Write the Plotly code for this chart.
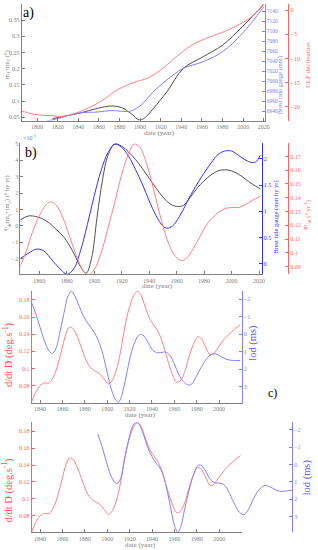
import plotly.graph_objects as go

W, H = 318, 550
FONT = "Liberation Serif, Times New Roman, serif"
GRAY = "#808080"
BLK = "#505050"
BLUE_L = "#8080ff"
BLUE = "#3030ff"
RED_L = "#ff8080"
RED = "#ff6060"

# ---------------- panel a ----------------
a_years_black = [1815, 1824, 1840, 1859, 1872, 1882, 1891, 1899, 1904, 1913, 1926, 1942, 1961, 1980, 1999, 2020]
a_black = [0.046, 0.052, 0.062, 0.078, 0.085, 0.080, 0.062, 0.042, 0.047, 0.078, 0.129, 0.201, 0.237, 0.273, 0.329, 0.398]
a_years_blue = [1808, 1824, 1840, 1859, 1872, 1885, 1891, 1901, 1913, 1926, 1942, 1961, 1980, 1999, 2020]
a_blue = [6920, 6928, 6937, 6939, 6942, 6940, 6941, 6953, 6980, 7003, 7026, 7039, 7059, 7095, 7148]
a_years_red = [1785, 1797, 1813, 1826, 1842, 1862, 1878, 1894, 1907, 1920, 1937, 1953, 1966, 1985, 2008, 2020]
a_red = [-20.9, -21.6, -21.9, -22.0, -21.0, -18.9, -16.5, -15.0, -14.1, -12.4, -9.3, -6.9, -5.7, -4.1, -1.4, 1.4]

# ---------------- panel b ----------------
b_years_black = [1846, 1852, 1858, 1865, 1872, 1878, 1884, 1890, 1894, 1898, 1902, 1906, 1910, 1915, 1920, 1925,
                 1930, 1935, 1940, 1945, 1950, 1955, 1960, 1965, 1970, 1975, 1980, 1985, 1990, 1995, 2000, 2005,
                 2010, 2015, 2021]
b_black = [0.35, 0.6, 0.55, 0.3, -0.2, -0.7, -1.5, -2.5, -2.9, -2.0, 0.5, 2.8, 4.3, 5.0, 4.85, 4.5,
           4.05, 3.5, 2.9, 2.3, 1.75, 1.35, 1.18, 1.25, 1.75, 2.3, 2.75, 3.1, 3.35, 3.42, 3.35, 3.15,
           2.85, 2.55, 2.25]
b_years_blue = [1846, 1852, 1858, 1863, 1870, 1876, 1880, 1885, 1890, 1895, 1900, 1905, 1910, 1915, 1920, 1925,
                1930, 1935, 1940, 1945, 1950, 1953, 1957, 1962, 1970, 1978, 1985, 1990, 1995, 2000, 2005, 2010,
                2015, 2018, 2021]
b_blue = [0.1, 0.2, 0.28, 0.25, 0.05, -0.12, -0.2, -0.1, 0.25, 0.75, 1.3, 1.78, 2.12, 2.28, 2.22, 2.05,
          1.8, 1.52, 1.2, 0.92, 0.72, 0.68, 0.72, 0.9, 1.3, 1.65, 1.92, 2.08, 2.15, 2.15, 2.07, 1.98,
          1.93, 1.95, 2.07]
b_years_red = [1846, 1850, 1855, 1860, 1865, 1868, 1872, 1877, 1882, 1887, 1892, 1896, 1900, 1905, 1910, 1915,
               1920, 1925, 1929, 1933, 1938, 1943, 1948, 1953, 1958, 1963, 1967, 1972, 1977, 1983, 1990, 1995,
               2000, 2005, 2010, 2015, 2021]
b_red = [0.090, 0.100, 0.115, 0.127, 0.135, 0.137, 0.135, 0.126, 0.112, 0.098, 0.087, 0.084, 0.088, 0.100, 0.118, 0.137,
         0.157, 0.172, 0.179, 0.177, 0.165, 0.147, 0.127, 0.110, 0.099, 0.0945, 0.096, 0.103, 0.112, 0.122, 0.129, 0.132,
         0.133, 0.133, 0.135, 0.138, 0.141]

# ---------------- panels c and d ----------------
cd_years_red = [1832.5, 1836, 1840, 1844, 1848, 1852, 1856, 1860, 1863, 1866, 1869, 1873, 1877, 1881, 1885, 1889,
                1893, 1897, 1901, 1904, 1908, 1912, 1916, 1920, 1924, 1927, 1930, 1934, 1938, 1942, 1946, 1950,
                1954, 1958, 1962, 1965, 1969, 1973, 1977, 1981, 1984, 1988, 1992, 1995, 1999, 2004, 2009, 2014, 2019]
cd_red = [0.061, 0.072, 0.080, 0.083, 0.083, 0.090, 0.105, 0.125, 0.140, 0.148, 0.147, 0.138, 0.124, 0.110, 0.101, 0.097,
          0.094, 0.088, 0.082, 0.085, 0.097, 0.120, 0.150, 0.172, 0.186, 0.190, 0.186, 0.172, 0.158, 0.150, 0.142, 0.128,
          0.110, 0.094, 0.084, 0.085, 0.095, 0.113, 0.128, 0.137, 0.135, 0.125, 0.116, 0.117, 0.124, 0.133, 0.140, 0.146, 0.151]
c_years_blue = [1832.5, 1836, 1840, 1844, 1848, 1851, 1854, 1858, 1862, 1865, 1868, 1871, 1875, 1879, 1883, 1887,
                1891, 1895, 1899, 1903, 1907, 1910, 1913, 1917, 1921, 1925, 1929, 1932, 1936, 1940, 1944, 1948,
                1952, 1956, 1960, 1964, 1968, 1972, 1975, 1979, 1984, 1989, 1993, 1997, 2001, 2006, 2012, 2019]
c_lod = [-1.8, -1.2, -0.4, 0.4, 0.95, 1.1, 0.85, -0.2, -1.4, -2.2, -2.45, -2.2, -1.6, -1.0, -0.6, -0.25,
         0.2, 0.9, 1.9, 3.0, 3.7, 3.9, 3.5, 2.4, 1.2, 0.4, 0.02, 0.05, 0.4, 0.85, 1.05, 1.05,
         1.02, 1.2, 1.7, 2.3, 2.7, 2.9, 2.88, 2.5, 1.9, 1.4, 1.15, 1.12, 1.25, 1.42, 1.5, 1.5]
d_years_blue = [1891.5, 1895, 1899, 1903, 1907, 1909, 1912, 1915, 1919, 1922, 1925, 1928, 1932, 1936, 1940, 1944,
                1948, 1952, 1956, 1960, 1963, 1966, 1969, 1973, 1977, 1981, 1984, 1988, 1992, 1996, 2000, 2004,
                2008, 2013, 2018, 2022, 2026, 2030, 2035, 2040, 2045, 2050, 2055, 2060, 2065]
d_lod = [-1.75, -1.1, -0.2, 0.6, 1.05, 1.1, 0.8, -0.2, -1.4, -2.1, -2.4, -2.35, -1.8, -1.0, -0.45, -0.05,
         0.3, 1.1, 2.3, 3.5, 3.9, 3.5, 2.6, 1.5, 0.6, 0.05, 0.05, 0.4, 0.85, 1.05, 1.07, 1.15,
         1.5, 2.2, 2.75, 2.9, 2.6, 2.05, 1.5, 1.22, 1.28, 1.45, 1.55, 1.52, 1.48]

a_xticks = list(range(1800, 2021, 20))
b_xticks = list(range(1860, 2021, 20))
cd_xticks = list(range(1840, 2001, 20))
a_left_ticks = [0.05, 0.1, 0.15, 0.2, 0.25, 0.3, 0.35]
a_blue_ticks = list(range(6940, 7141, 20))
a_red_ticks = [0, -5, -10, -15, -20]
b_left_ticks = [-2, -1, 0, 1, 2, 3, 4, 5]
b_blue_ticks = [0, 0.5, 1, 1.5, 2]
b_red_ticks = [0.09, 0.10, 0.11, 0.12, 0.13, 0.14, 0.15, 0.16, 0.17]
cd_left_ticks = [0.08, 0.1, 0.12, 0.14, 0.16, 0.18]
lod_ticks = [-2, -1, 0, 1, 2, 3]


def px(x):
    return x / W


def py(y):
    return 1 - y / H


fig = go.Figure()


def line(x, y, color, xa, ya, w=1):
    fig.add_trace(go.Scatter(x=x, y=y, mode="lines", line=dict(color=color, width=w, shape="spline", smoothing=1.0),
                             xaxis=xa, yaxis=ya, showlegend=False, hoverinfo="skip"))


line(a_years_black, a_black, BLK, "x", "y")
line(a_years_blue, a_blue, BLUE_L, "x", "y2")
line(a_years_red, a_red, RED_L, "x", "y3")

line(b_years_black, b_black, BLK, "x2", "y4")
line(b_years_blue, b_blue, BLUE, "x2", "y5")
line(b_years_red, b_red, RED_L, "x2", "y6")

line(cd_years_red, cd_red, RED_L, "x3", "y7")
line(c_years_blue, c_lod, BLUE_L, "x3", "y8")

line(cd_years_red, cd_red, RED_L, "x4", "y9")
line(d_years_blue, d_lod, BLUE_L, "x5", "y10")

tf = lambda c, s=6: dict(family=FONT, size=s, color=c)


def xax(dom, rng, ticks, anchor, color=GRAY, visible=True):
    return dict(domain=dom, range=rng, tickvals=ticks, anchor=anchor, showgrid=False, zeroline=False,
                showline=True, linecolor=color, linewidth=1, ticks="inside", ticklen=3, tickcolor=color,
                tickfont=tf(color), visible=visible, fixedrange=True)


def yax(dom, rng, ticks, anchor, color, side="left", overlaying=None, position=None, labels=None, fs=6):
    d = dict(domain=dom, range=rng, tickvals=ticks, anchor=anchor, side=side, showgrid=False, zeroline=False,
             showline=True, linecolor=color, linewidth=1, ticks="inside", ticklen=3, tickcolor=color,
             tickfont=tf(color, fs), fixedrange=True)
    if labels is not None:
        d["ticktext"] = labels
    if overlaying:
        d["overlaying"] = overlaying
    if position is not None:
        d["anchor"] = "free"
        d["position"] = position
    return d


a_xd = [px(22), px(269)]
a_yd = [py(119), py(2)]
b_xd = [px(20.7), px(265.7)]
b_yd = [py(273.3), py(141.7)]
c_xd = [px(32.3), px(245.5)]
c_yd = [py(402.3), py(290)]
d_xd = [px(32.3), px(245.7)]
d_xd2 = [px(32.3), px(296.7)]
d_yd = [py(532.3), py(421.7)]

fig.update_layout(
    width=W, height=H, margin=dict(l=0, r=0, t=0, b=0),
    paper_bgcolor="white", plot_bgcolor="rgba(0,0,0,0)",
    font=dict(family=FONT, size=7, color=GRAY),
    xaxis=xax(a_xd, [1785, 2021], a_xticks, "y"),
    yaxis=yax(a_yd, [0.04, 0.40], a_left_ticks, "x", GRAY),
    yaxis2=yax(a_yd, [6922, 7154], a_blue_ticks, "x", BLUE_L, side="right", overlaying="y", fs=5.5),
    yaxis3=yax(a_yd, [-22.9, 1.3], a_red_ticks, "x", RED, side="right", overlaying="y", position=px(293)),
    xaxis2=xax(b_xd, [1846.2, 2021.8], b_xticks, "y4"),
    yaxis4=yax(b_yd, [-2.96, 5.04], b_left_ticks, "x2", GRAY),
    yaxis5=yax(b_yd, [-0.2, 2.3], b_blue_ticks, "x2", BLUE, side="right", overlaying="y4"),
    yaxis6=yax(b_yd, [0.0845, 0.1796], b_red_ticks, "x2", RED, side="right", overlaying="y4", position=px(292.7)),
    xaxis3=xax(c_xd, [1832.6, 2020.2], cd_xticks, "y7"),
    yaxis7=yax(c_yd, [0.0598, 0.1905], cd_left_ticks, "x3", RED),
    yaxis8=yax(c_yd, [3.93, -2.48], lod_ticks, "x3", BLUE_L, side="right", overlaying="y7"),
    xaxis4=xax(d_xd, [1832.6, 2020.2], cd_xticks, "y9"),
    yaxis9=yax(d_yd, [0.0606, 0.1905], cd_left_ticks, "x4", RED),
    xaxis5=xax(d_xd2, [1832.6, 2065], [], "y10", visible=False),
    yaxis10=yax(d_yd, [3.91, -2.44], lod_ticks, "x5", BLUE_L, side="right"),
)


def ann(x, y, text, color, size=7, angle=0):
    fig.add_annotation(x=px(x), y=py(y), xref="paper", yref="paper", text=text, showarrow=False,
                       textangle=angle, font=dict(family=FONT, size=size, color=color),
                       xanchor="center", yanchor="middle")


# panel a
ann(29, 11, "a)", "black", 14)
ann(6.5, 63, "m<sub>1</sub>+im<sub>2</sub> (°)", GRAY, 6.5, -90)
ann(284, 84, "Brest tide gauge (mm)", BLUE_L, 6.5, -90)
ann(313, 63, "CLF declination", RED, 7, -90)
ann(162, 131.5, "date (year)", GRAY, 7)
# panel b
ann(31, 152, "b)", "black", 14)
ann(30, 135, "×10<sup>-3</sup>", GRAY, 6)
ann(7, 202, "<sup>d</sup>/<sub>dt</sub>(m<sub>1</sub>+im<sub>2</sub>) (° by yr)", GRAY, 6.5, -90)
ann(281, 216, "Brest tide gauge (mm by yr)", BLUE, 6.5, -90)
ann(312, 214, "<sup>dD</sup>/<sub>dt</sub> (°.yr<sup>-1</sup>)", RED, 6.5, -90)
ann(160, 285, "date (year)", GRAY, 7)
# panel c
ann(7.5, 354, "d/dt D (deg.s<sup>-1</sup>)", "#ff5050", 10.5, -90)
ann(257, 342, "lod (ms)", "#6060ff", 10.5, -90)
ann(143, 415, "date (year)", GRAY, 7)
ann(277, 392, "c)", "black", 12)
# panel d
ann(7.5, 490, "d/dt D (deg.s<sup>-1</sup>)", "#ff5050", 10.5, -90)
ann(312, 477, "lod (ms)", "#6060ff", 10.5, -90)
ann(143, 545, "date (year)", GRAY, 7)

fig.write_html("out.html", config={"displayModeBar": False},
               post_script="document.body.style.margin='0';document.body.style.padding='0';")
